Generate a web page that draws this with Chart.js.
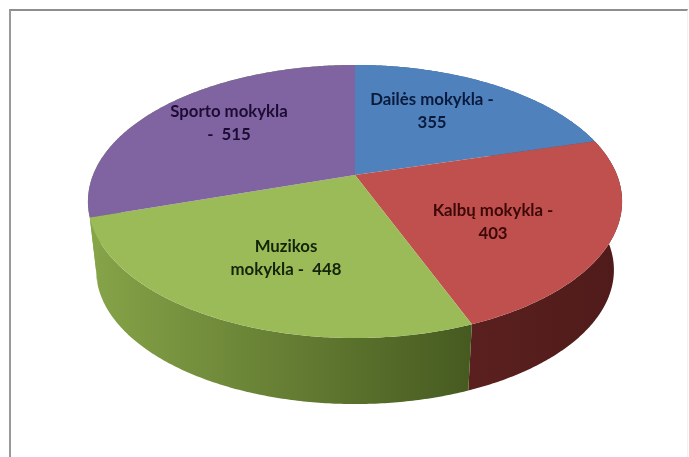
<!DOCTYPE html>
<html>
<head>
<meta charset="utf-8">
<script src="https://cdn.jsdelivr.net/npm/chart.js@4"></script>
<style>
html, body { margin: 0; padding: 0; background: #fff; overflow: hidden; }
#frame { position: absolute; left: 9px; top: 9px; width: 676px; height: 448px; filter: blur(0.5px);
  border-left: 2px solid #999; border-top: 2px solid #8e8e8e; border-right: 1px solid #f2f2f2; }
#pie { position: absolute; left: 0; top: 0; filter: blur(0.7px); }
</style>
</head>
<body>
<div id="frame"></div>
<canvas id="pie" width="689" height="457"></canvas>
<script>
"use strict";

const categories = ['Dailės mokykla', 'Kalbų mokykla', 'Muzikos mokykla', 'Sporto mokykla'];
const values = [355, 403, 448, 515];

const topColors = ['#4f81bd', '#c0504d', '#9bbb59', '#8064a2'];
// the back of the disc never shows, only a sliver at the far left next to the green side
const sideColors = [['#3a5f8c', '#3a5f8c'], ['#5a201f', '#4f1b1a'], ['#86a448', '#465a20'], ['#86a448', '#86a448']];
const inkColors = ['#0a1a3c', '#3c0808', '#142408', '#1c0c34'];

// text lines of each slice label and where their centre sits
const labelLines = [
    [categories[0] + ' -', String(values[0])],
    [categories[1] + ' -', String(values[1])],
    ['Muzikos', 'mokykla -  ' + values[2]],
    [categories[3], '-  ' + values[3]]
];
const labelAt = [[432, 100], [493, 211], [286, 247], [229, 112]];
const lineHeight = 23;

// perspective of the disc: k is how fast things grow towards the viewer
const view = { cx: 355, k: 0.194 };
const topFace = { y: 175, rx: 262, ry: 131.4 };
const bottomFace = { y: 244, rx: 254, ry: 129 };

function project(face, angle) {
    const u = Math.cos(angle);
    const v = Math.sin(angle);
    const w = 1 / (1 - view.k * v);
    return [view.cx + face.rx * u * w, face.y + face.ry * v * w];
}

function arcPoints(face, start, end) {
    const pts = [];
    const steps = Math.max(2, Math.ceil((end - start) / 0.01));
    for (let i = 0; i <= steps; i++) {
        pts.push(project(face, start + (end - start) * i / steps));
    }
    return pts;
}

function tracePolygon(ctx, pts) {
    ctx.beginPath();
    pts.forEach((p, i) => i ? ctx.lineTo(p[0], p[1]) : ctx.moveTo(p[0], p[1]));
    ctx.closePath();
}

const pie3d = {
    id: 'pie3d',
    // the slices come out of the library's arc elements, but are drawn tilted
    beforeDatasetsDraw(chart) {
        const ctx = chart.ctx;
        const arcs = chart.getDatasetMeta(0).data;

        arcs.forEach((arc, i) => {
            const top = arcPoints(topFace, arc.startAngle, arc.endAngle);
            const bottom = arcPoints(bottomFace, arc.startAngle, arc.endAngle);
            const xs = top.concat(bottom).map(p => p[0]);
            const grad = ctx.createLinearGradient(Math.min(...xs), 0, Math.max(...xs), 0);
            grad.addColorStop(0, sideColors[i][0]);
            grad.addColorStop(1, sideColors[i][1]);
            tracePolygon(ctx, top.concat(bottom.reverse()));
            ctx.fillStyle = grad;
            ctx.fill();
        });

        arcs.forEach((arc, i) => {
            const pts = arcPoints(topFace, arc.startAngle, arc.endAngle);
            pts.push([view.cx, topFace.y]);
            tracePolygon(ctx, pts);
            ctx.fillStyle = arc.options.backgroundColor;
            ctx.fill();
        });
        return false;
    },
    afterDraw(chart) {
        const ctx = chart.ctx;
        ctx.save();
        ctx.font = 'bold 16.8px Lato';
        ctx.textAlign = 'center';
        ctx.textBaseline = 'middle';
        labelLines.forEach((lines, i) => {
            ctx.fillStyle = inkColors[i];
            lines.forEach((line, j) => {
                ctx.fillText(line, labelAt[i][0], labelAt[i][1] + j * lineHeight);
            });
        });
        ctx.restore();
    }
};

new Chart(document.getElementById('pie').getContext('2d'), {
    type: 'pie',
    data: {
        labels: categories,
        datasets: [{ data: values, backgroundColor: topColors, borderWidth: 0 }]
    },
    options: {
        responsive: false,
        animation: false,
        plugins: {
            legend: { display: false },
            tooltip: { enabled: false }
        }
    },
    plugins: [pie3d]
});
</script>
</body>
</html>
